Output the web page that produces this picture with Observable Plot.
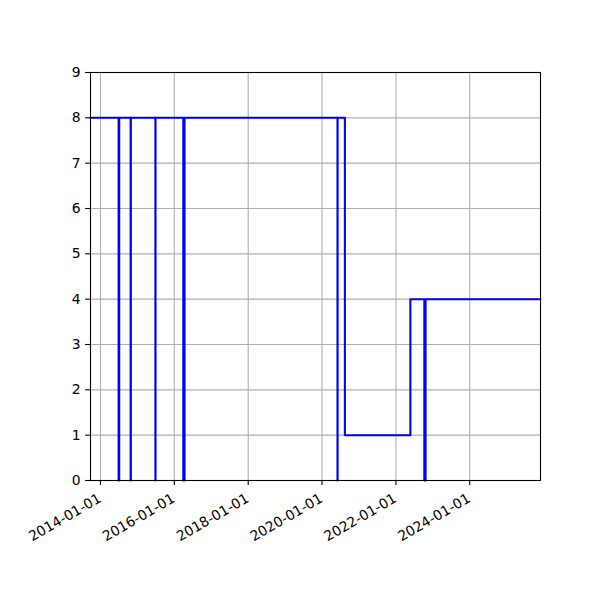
<!DOCTYPE html>
<html>
<head>
<meta charset="utf-8">
<script src="https://cdn.jsdelivr.net/npm/d3@7"></script>
<script src="https://cdn.jsdelivr.net/npm/@observablehq/plot@0.6"></script>
<style>
  html, body { margin: 0; padding: 0; background: white; }
</style>
</head>
<body>
<div id="chart"></div>
<script>
// Step series (dates and values)
const dates = [
  "2013-09-24", "2014-06-29", "2014-07-05", "2014-10-26", "2014-10-28",
  "2015-06-28", "2015-06-29", "2016-03-30", "2016-04-11", "2020-06-02",
  "2020-06-03", "2020-08-14", "2022-05-24", "2022-10-09", "2022-10-21",
  "2025-12-01"
];
const values = [8, 0, 8, 0, 8, 0, 8, 0, 8, 0, 8, 1, 4, 0, 4, 4];

// Axis settings
const xDomain = ["2013-09-24", "2025-12-01"];
const xTickLabels = ["2014-01-01", "2016-01-01", "2018-01-01", "2020-01-01", "2022-01-01", "2024-01-01"];
const yTicks = [0, 1, 2, 3, 4, 5, 6, 7, 8, 9];

const parse = d3.utcParse("%Y-%m-%d");
const data = dates.map((d, i) => ({date: parse(d), value: values[i]}));
const xTicks = xTickLabels.map(parse);
const fmt = d3.utcFormat("%Y-%m-%d");

const chart = Plot.plot({
  width: 600,
  height: 600,
  marginLeft: 90,
  marginRight: 60,
  marginTop: 72,
  marginBottom: 120,
  style: {fontFamily: "DejaVu Sans", fontSize: "13.9px", background: "white", color: "black"},
  x: {type: "utc", domain: xDomain.map(parse)},
  y: {domain: [0, 9]},
  marks: [
    Plot.gridX(xTicks, {stroke: "#b0b0b0", strokeOpacity: 1, strokeWidth: 1.1}),
    Plot.gridY(yTicks, {stroke: "#b0b0b0", strokeOpacity: 1, strokeWidth: 1.1}),
    Plot.lineY(data, {x: "date", y: "value", curve: "step-after", stroke: "blue", strokeWidth: 2.08}),
    Plot.frame({stroke: "black", strokeWidth: 1.1}),
    Plot.axisY(yTicks, {tickSize: 4.9, tickPadding: 4.9, strokeWidth: 1.1, fontSize: 13.9, label: null}),
    Plot.axisX(xTicks, {tickSize: 4.9, strokeWidth: 1.1, tickFormat: () => "", label: null}),
    Plot.text(xTicks, {
      x: d => d,
      frameAnchor: "bottom",
      text: d => fmt(d),
      rotate: -30,
      textAnchor: "end",
      lineAnchor: "bottom",
      dx: 1.6,
      dy: 20.7,
      fontSize: 13.9,
      fill: "black"
    })
  ]
});

document.getElementById("chart").appendChild(chart);
</script>
</body>
</html>
